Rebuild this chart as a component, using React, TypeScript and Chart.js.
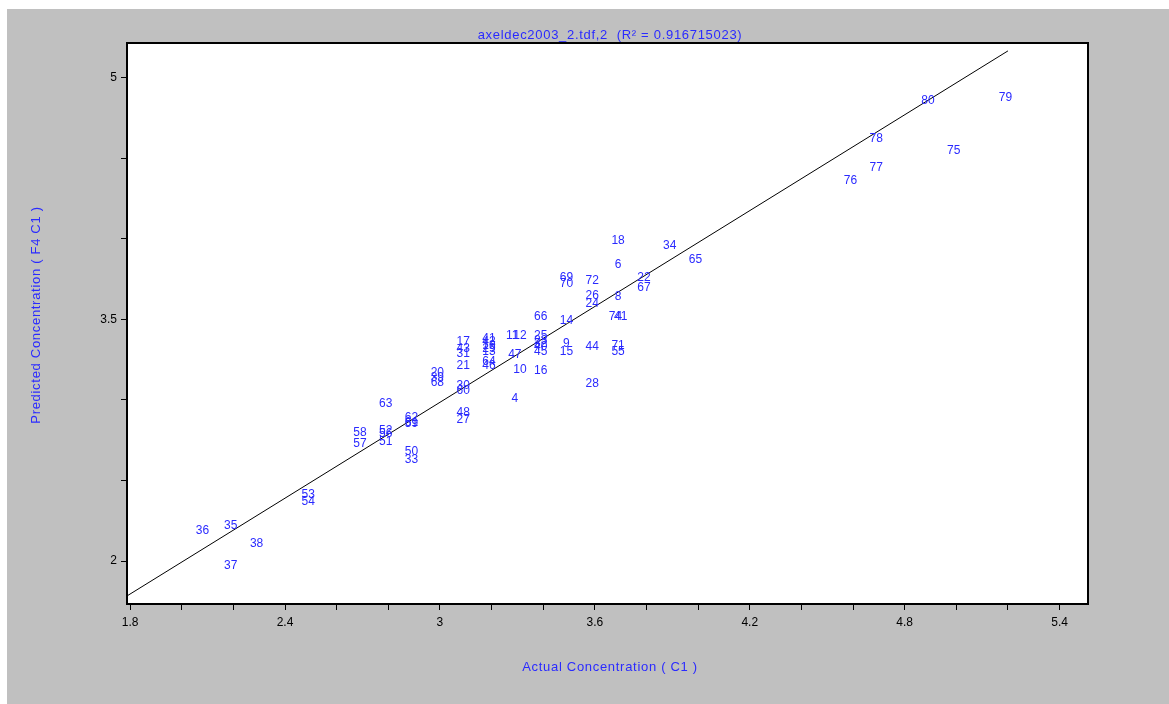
import React, { useEffect, useRef } from 'react';
import { Chart, registerables } from 'chart.js';

Chart.register(...registerables);

// ---- data ----
const pointLabels = [
  '36', '35', '38', '37', '53', '54', '58', '57', '52', '56', '51', '63',
  '62', '61', '59', '50', '33', '20', '39', '68', '17', '43', '31', '21',
  '30', '60', '48', '27', '41', '42', '19', '29', '13', '64', '46', '11',
  '12', '47', '10', '4', '25', '23', '32', '40', '45', '66', '16', '14',
  '9', '15', '69', '70', '72', '26', '24', '44', '28', '18', '6', '8',
  '74', '41', '71', '55', '22', '67', '34', '65', '76', '77', '78', '75',
  '80', '79',
];
const actualValues = [
  2.08, 2.19, 2.29, 2.19, 2.49, 2.49, 2.69, 2.69, 2.79, 2.79, 2.79, 2.79,
  2.89, 2.89, 2.89, 2.89, 2.89, 2.99, 2.99, 2.99, 3.09, 3.09, 3.09, 3.09,
  3.09, 3.09, 3.09, 3.09, 3.19, 3.19, 3.19, 3.19, 3.19, 3.19, 3.19, 3.28,
  3.31, 3.29, 3.31, 3.29, 3.39, 3.39, 3.39, 3.39, 3.39, 3.39, 3.39, 3.49,
  3.49, 3.49, 3.49, 3.49, 3.59, 3.59, 3.59, 3.59, 3.59, 3.69, 3.69, 3.69,
  3.68, 3.70, 3.69, 3.69, 3.79, 3.79, 3.89, 3.99, 4.59, 4.69, 4.69, 4.99,
  4.89, 5.19,
];
const predictedValues = [
  2.19, 2.22, 2.11, 1.97, 2.41, 2.37, 2.80, 2.73, 2.81, 2.79, 2.74, 2.98,
  2.89, 2.86, 2.85, 2.68, 2.63, 3.17, 3.14, 3.11, 3.36, 3.32, 3.29, 3.21,
  3.09, 3.06, 2.92, 2.88, 3.38, 3.36, 3.34, 3.32, 3.30, 3.24, 3.21, 3.40,
  3.40, 3.28, 3.19, 3.01, 3.40, 3.37, 3.35, 3.33, 3.30, 3.52, 3.18, 3.49,
  3.35, 3.30, 3.76, 3.72, 3.74, 3.65, 3.60, 3.33, 3.10, 3.99, 3.84, 3.64,
  3.52, 3.52, 3.34, 3.30, 3.76, 3.70, 3.96, 3.87, 4.36, 4.44, 4.62, 4.55,
  4.86, 4.88,
];
const fitX = [1.788, 5.2];
const fitY = [1.783, 5.168];
const xTickLabels = ['1.8', '2.4', '3', '3.6', '4.2', '4.8', '5.4'];
const yTickLabels = ['2', '3.5', '5'];
const titleText = 'axeldec2003_2.tdf,2  (R\u00B2 = 0.916715023)';
const xTitleText = 'Actual Concentration ( C1 )';
const yTitleText = 'Predicted Concentration ( F4 C1 )';

const W = 1169;
const H = 704;
const BLUE = '#2a2aff';
const GRAY = '#c0c0c0';
const FONT = "'Liberation Sans', Arial, sans-serif";

function labelFor(list: string[], value: number): string {
  const hit = list.find((l) => Math.abs(parseFloat(l) - value) < 1e-6);
  return hit ?? '';
}

export default function App() {
  const ref = useRef<HTMLCanvasElement | null>(null);

  useEffect(() => {
    document.body.style.margin = '0';
    const canvas = ref.current;
    if (!canvas) return;

    const decor = {
      id: 'decor',
      beforeDraw(chart: any) {
        const { ctx, chartArea } = chart;
        ctx.save();
        ctx.fillStyle = '#ffffff';
        ctx.fillRect(0, 0, W, H);
        ctx.fillStyle = GRAY;
        ctx.fillRect(7, 9, W - 7, H - 9);
        ctx.fillStyle = '#ffffff';
        ctx.fillRect(chartArea.left, chartArea.top, chartArea.right - chartArea.left, chartArea.bottom - chartArea.top);
        ctx.restore();
      },
      afterDatasetsDraw(chart: any) {
        const { ctx } = chart;
        const meta = chart.getDatasetMeta(0);
        ctx.save();
        ctx.fillStyle = BLUE;
        ctx.font = `12px ${FONT}`;
        ctx.textAlign = 'center';
        ctx.textBaseline = 'middle';
        meta.data.forEach((el: any, i: number) => {
          ctx.fillText(pointLabels[i], el.x, el.y);
        });
        ctx.restore();
      },
      afterDraw(chart: any) {
        const { ctx, chartArea } = chart;
        ctx.save();
        ctx.strokeStyle = '#000000';
        ctx.lineWidth = 2;
        ctx.strokeRect(chartArea.left, chartArea.top, chartArea.right - chartArea.left, chartArea.bottom - chartArea.top);
        ctx.fillStyle = BLUE;
        ctx.font = `13px ${FONT}`;
        try { (ctx as any).letterSpacing = '0.7px'; } catch (e) { /* ignore */ }
        ctx.textAlign = 'center';
        ctx.textBaseline = 'middle';
        ctx.fillText(titleText, 610, 35);
        ctx.fillText(xTitleText, 610, 667);
        ctx.translate(36, 315);
        ctx.rotate(-Math.PI / 2);
        ctx.fillText(yTitleText, 0, 0);
        try { (ctx as any).letterSpacing = '0px'; } catch (e) { /* ignore */ }
        ctx.restore();
      },
    };

    const chart = new Chart(canvas, {
      type: 'scatter',
      data: {
        datasets: [
          {
            label: 'samples',
            data: actualValues.map((x, i) => ({ x, y: predictedValues[i] })),
            pointRadius: 0,
            pointHoverRadius: 0,
            showLine: false,
          },
          {
            label: 'fit',
            data: fitX.map((x, i) => ({ x, y: fitY[i] })),
            showLine: true,
            borderColor: '#000000',
            borderWidth: 1,
            pointRadius: 0,
            fill: false,
          },
        ],
      },
      plugins: [decor],
      options: {
        animation: false,
        responsive: false,
        events: [],
        layout: { padding: { left: 0, top: 43, right: W - 1088, bottom: 0 } },
        plugins: { legend: { display: false }, tooltip: { enabled: false }, title: { display: false } },
        scales: {
          x: {
            type: 'linear',
            min: 1.788,
            max: 5.51,
            afterFit(s: any) { s.height = 100; },
            border: { display: false },
            grid: { drawOnChartArea: false, drawTicks: true, tickLength: 6, color: '#000000', lineWidth: 1 },
            ticks: {
              stepSize: 0.2,
              includeBounds: false,
              autoSkip: false,
              maxRotation: 0,
              padding: 5,
              color: '#000000',
              font: { family: FONT, size: 12 },
              callback: (v: any) => labelFor(xTickLabels, Number(v)),
            },
          },
          y: {
            type: 'linear',
            min: 1.733,
            max: 5.217,
            afterFit(s: any) { s.width = 127; },
            border: { display: false },
            grid: { drawOnChartArea: false, drawTicks: true, tickLength: 6, color: '#000000', lineWidth: 1 },
            ticks: {
              stepSize: 0.5,
              includeBounds: false,
              autoSkip: false,
              padding: 4,
              color: '#000000',
              font: { family: FONT, size: 12 },
              callback: (v: any) => labelFor(yTickLabels, Number(v)),
            },
          },
        },
      },
    } as any);

    return () => chart.destroy();
  }, []);

  return (
    <div style={{ position: 'absolute', left: 0, top: 0, width: W, height: H }}>
      <canvas ref={ref} width={W} height={H} style={{ display: 'block', width: W, height: H }} />
    </div>
  );
}
